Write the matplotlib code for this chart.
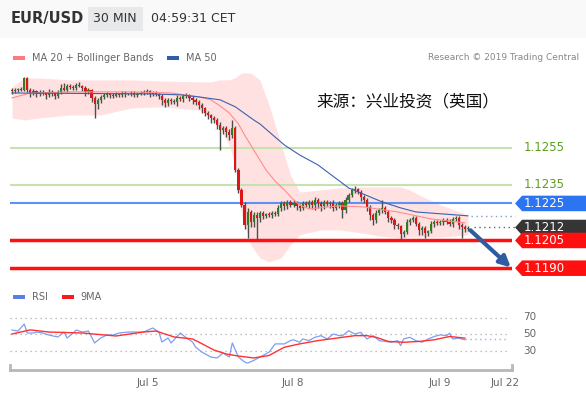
import matplotlib
matplotlib.use("Agg")
import matplotlib.pyplot as plt
from matplotlib.patches import Polygon, Rectangle

# EUR/USD 30 min, prices stored as pips above 1.1200
closes = [85.8, 86.4, 86.9, 86.4, 92.8, 86.4, 84.7, 85.8, 84.2, 85.3,
          84.7, 83.7, 85.3, 84.7, 83.1, 85.3, 87.4, 86.4, 88.5, 88.0,
          87.4, 89.1, 88.5, 87.4, 85.3, 86.4, 82.0, 78.8, 81.0, 82.6,
          83.7, 84.2, 83.7, 83.1, 84.2, 83.7, 84.7, 84.2, 84.2, 84.7,
          83.7, 84.2, 84.7, 85.3, 85.8, 84.2, 84.7, 84.2, 83.1, 81.0,
          79.3, 81.0, 80.4, 79.9, 82.0, 81.5, 83.1, 83.7, 82.0, 81.0,
          79.9, 78.2, 76.6, 73.9, 72.8, 71.2, 70.1, 67.4, 64.7, 65.8,
          63.7, 62.0, 65.8, 43.1, 32.3, 24.2, 13.4, 20.4, 15.0, 18.8,
          17.2, 19.9, 18.3, 19.3, 18.8, 19.9, 19.3, 22.6, 25.3, 23.7,
          25.8, 24.2, 25.3, 23.7, 22.6, 25.3, 24.2, 25.8, 24.2, 26.9,
          25.3, 23.7, 25.8, 24.7, 25.3, 22.6, 24.2, 25.3, 21.5, 26.9,
          29.6, 32.3, 32.8, 31.2, 28.5, 26.9, 23.1, 18.8, 16.1, 19.9,
          21.5, 22.6, 20.4, 17.2, 16.1, 13.4, 12.8, 8.5, 9.6, 15.0,
          16.1, 17.2, 13.9, 10.7, 11.8, 9.1, 10.1, 13.9, 15.0, 14.5,
          15.0, 16.1, 15.0, 13.9, 16.6, 17.2, 13.4, 12.3, 11.2, 11.8]
first_open = 86.4
opens = [first_open] + closes[:-1]

wick_hi = [0.8, 1.2, 0.6, 1.0, 0.5, 0.4, 0.8, 1.2, 0.6, 0.9,
           1.0, 0.7, 1.3, 0.8, 0.6, 1.0, 2.0, 2.5, 1.0, 1.2,
           0.8, 1.0, 1.5, 0.7, 0.9, 1.0, 0.6, 0.8, 1.0, 1.2,
           0.8, 1.0, 0.7, 0.9, 1.0, 0.6, 0.8, 1.1, 0.7, 0.9,
           1.0, 0.8, 1.2, 0.9, 1.0, 0.7, 0.8, 1.3, 0.6, 0.8,
           1.0, 1.2, 0.9, 0.8, 1.5, 1.0, 1.3, 0.8, 0.6, 1.0,
           0.8, 0.9, 1.0, 0.7, 1.2, 0.8, 1.0, 0.9, 1.5, 1.2,
           1.0, 1.5, 4.3, 1.0, 1.2, 1.0, 1.5, 2.0, 1.2, 1.8,
           1.5, 1.0, 1.2, 0.8, 1.0, 0.9, 1.2, 1.5, 1.0, 1.2,
           0.8, 1.0, 1.5, 0.9, 1.0, 0.8, 1.2, 1.0, 0.9, 1.5,
           1.0, 0.8, 1.2, 0.9, 1.0, 1.5, 0.8, 1.0, 1.2, 1.5,
           1.2, 1.0, 1.5, 0.8, 1.0, 0.9, 1.2, 0.8, 1.0, 1.5,
           1.0, 4.3, 0.8, 1.2, 1.0, 0.9, 1.0, 0.8, 1.2, 1.5,
           1.0, 0.8, 1.2, 0.9, 1.0, 1.2, 0.8, 1.5, 1.0, 0.9,
           1.2, 1.0, 0.8, 1.5, 1.0, 1.2, 0.9, 1.0, 0.8, 0.9]
wick_lo = [1.5, 1.0, 1.2, 0.8, 0.5, 1.0, 2.0, 1.2, 1.5, 1.0,
           1.2, 2.0, 1.0, 1.5, 1.8, 1.0, 1.2, 0.8, 1.0, 1.2,
           1.0, 1.2, 0.8, 1.5, 2.0, 1.2, 2.0, 7.6, 2.5, 1.5,
           1.2, 1.0, 1.5, 1.2, 0.8, 1.0, 1.2, 1.5, 0.8, 1.0,
           1.2, 1.0, 0.8, 1.2, 1.0, 1.5, 1.2, 1.0, 1.5, 2.7,
           2.0, 1.5, 1.8, 1.2, 2.5, 1.0, 1.5, 1.2, 1.5, 2.0,
           1.5, 2.0, 2.5, 1.8, 2.0, 2.5, 1.5, 2.0, 10.8, 2.0,
           3.0, 2.5, 1.5, 1.0, 1.5, 1.0, 2.0, 7.0, 2.5, 3.0,
           11.9, 2.0, 1.5, 1.2, 1.0, 1.5, 1.2, 1.0, 1.5, 2.0,
           1.5, 1.2, 1.0, 2.0, 1.5, 1.2, 1.0, 1.5, 2.0, 3.0,
           2.5, 3.0, 1.5, 1.2, 2.0, 1.5, 1.0, 1.5, 4.3, 1.5,
           1.2, 1.0, 1.5, 1.2, 2.0, 1.5, 2.0, 3.0, 3.0, 1.5,
           1.2, 1.5, 1.0, 2.0, 1.5, 2.0, 1.5, 3.2, 1.5, 1.2,
           1.5, 1.2, 1.0, 3.0, 2.5, 3.0, 1.5, 1.2, 1.5, 1.0,
           1.2, 1.5, 1.0, 1.2, 1.5, 1.0, 2.0, 6.0, 1.5, 1.0]

# bollinger envelope + moving averages (pips), read at a few candles
bb_x = [0, 4, 9, 19, 29, 39, 48, 61, 65, 68, 71, 73, 75, 78, 81, 84, 88, 91, 94,
        101, 107, 114, 120, 127, 130, 133, 140, 149]
bb_up = [88.0, 92.8, 92.8, 91.8, 91.8, 91.8, 91.2, 90.7, 90.7, 91.8, 91.8,
         93.0, 95.5, 95.5, 91.8, 78.2, 56.6, 40.4, 31.2, 32.3, 33.4, 33.9, 33.9,
         33.9, 32.3, 29.6, 24.2, 18.8]
bb_lo = [71.2, 70.1, 71.2, 72.8, 72.8, 76.6, 77.2, 75.5, 71.2, 65.8, 56.6,
         45.0, 18.8, 2.6, -4.4, -6.6, -4.4, 2.6, 8.0, 10.7, 10.7, 9.1, 7.4, 6.4,
         6.9, 6.9, 6.9, 8.0]
ma20_x = [0, 6, 19, 39, 52, 61, 65, 68, 71, 74, 76, 78, 81, 83, 86, 89, 92,
          94, 97, 107, 115, 126, 137, 148]
ma20 = [82.0, 84.7, 85.3, 85.3, 84.7, 82.6, 81.0, 77.7, 73.9, 68.0, 62.0,
        56.6, 48.5, 43.1, 37.0, 32.3, 27.0, 24.2, 22.0, 23.7, 23.1, 20.4,
        16.6, 14.5]
ma50_x = [0, 45, 55, 61, 68, 73, 79, 81, 89, 94, 100, 110, 121, 127, 132, 149]
ma50 = [84.7, 84.2, 83.7, 82.6, 81.0, 77.2, 70.1, 68.0, 56.6, 51.2, 45.8,
        33.4, 25.8, 22.6, 20.4, 18.3]

# RSI panel
rsi_x = [0, 2, 4, 5, 7, 8, 10, 12, 15, 17, 18, 20, 21, 23, 25, 27, 29, 31,
         33, 35, 38, 40, 43, 46, 48, 49, 51, 52, 55, 57, 59, 60, 62, 65, 67,
         69, 71, 72, 74, 76, 77, 79, 81, 84, 86, 89, 91, 92, 94, 95, 97, 99,
         101, 103, 105, 107, 108, 110, 112, 114, 116, 118, 120, 122, 124, 126,
         127, 128, 130, 132, 134, 136, 138, 140, 142, 143, 144, 146, 148]
rsi = [54.8, 53.6, 62.1, 51.2, 51.2, 52.4, 51.2, 48.8, 46.4, 52.4, 45.2,
       51.2, 54.8, 52.4, 53.6, 39.1, 45.2, 48.8, 48.8, 51.2, 52.4, 52.4,
       52.4, 57.3, 52.4, 40.3, 45.2, 39.1, 51.2, 45.2, 40.3, 34.2, 28.2,
       22.1, 20.9, 27.0, 22.1, 39.1, 22.1, 16.1, 14.8, 18.0, 22.0, 28.0,
       38.0, 38.0, 42.0, 43.0, 40.0, 44.0, 42.0, 46.0, 48.0, 44.0, 50.0,
       48.0, 48.0, 54.0, 50.0, 52.0, 44.0, 48.0, 42.0, 41.0, 40.0, 42.0,
       36.0, 44.0, 46.0, 42.0, 40.0, 44.0, 47.0, 49.0, 48.0, 51.0, 44.0,
       45.0, 43.0]
ma9_x = [0, 6, 12, 23, 34, 43, 47, 53, 59, 61, 66, 70, 74, 79, 84, 89, 94,
         100, 106, 112, 116, 119, 123, 128, 133, 138, 143, 148]
ma9 = [50, 55, 52.4, 51.2, 47.6, 52.4, 53.6, 46.4, 44, 40.3, 30.6, 25.8,
       23.3, 21, 24, 34, 38, 42, 45, 48, 48, 46, 41, 40, 41, 43, 47, 45]

tick_pos = [44.4, 91.8, 139.9, 161.1]
tick_labels = ["Jul 5", "Jul 8", "Jul 9", "Jul 22"]

# levels in pips above 1.1200
green_levels = [55.0, 35.0]
blue_level = 25.0
last_price = 12.0
red_levels = [5.0, -10.0]

W, H = 586, 394
fig = plt.figure(figsize=(W / 100, H / 100), dpi=100)
fig.patch.set_facecolor("white")


def fx(px):
    return px / W


def fy(py):
    return 1 - py / H


# header strip
fig.patches.append(Rectangle((0, fy(38)), 1, 38 / H, transform=fig.transFigure,
                             facecolor="#f9f9f9", edgecolor="none", zorder=0))
fig.patches.append(Rectangle((fx(88), fy(31)), 55 / W, 24 / H, transform=fig.transFigure,
                             facecolor="#e8e9eb", edgecolor="none", zorder=1))
fig.text(fx(11), fy(19), "EUR/USD", fontsize=10.5, weight="bold", color="#333333", va="center")
fig.text(fx(115), fy(19), "30 MIN", fontsize=9, color="#333333", va="center", ha="center")
fig.text(fx(151), fy(19), "04:59:31 CET", fontsize=9, color="#333333", va="center")

# legends
fig.patches.append(Rectangle((fx(13), fy(60)), 12 / W, 4 / H, transform=fig.transFigure,
                             facecolor="#ff7b7b", edgecolor="none"))
fig.text(fx(32), fy(58), "MA 20 + Bollinger Bands", fontsize=7, color="#666666", va="center")
fig.patches.append(Rectangle((fx(167), fy(60)), 12 / W, 4 / H, transform=fig.transFigure,
                             facecolor="#2f5ea8", edgecolor="none"))
fig.text(fx(186), fy(58), "MA 50", fontsize=7, color="#666666", va="center")
fig.text(fx(579), fy(58), "Research \u00a9 2019 Trading Central", fontsize=6.5,
         color="#888888", va="center", ha="right")

fig.patches.append(Rectangle((fx(13), fy(299)), 12 / W, 4 / H, transform=fig.transFigure,
                             facecolor="#5b7fe0", edgecolor="none"))
fig.text(fx(32), fy(297), "RSI", fontsize=7, color="#666666", va="center")
fig.patches.append(Rectangle((fx(62), fy(299)), 12 / W, 4 / H, transform=fig.transFigure,
                             facecolor="#ff1a1a", edgecolor="none"))
fig.text(fx(80), fy(297), "9MA", fontsize=7, color="#666666", va="center")

# main price panel
ax = fig.add_axes([fx(10), fy(278), 502 / W, 210 / H])
ax.set_xlim(-0.65, 163.4)
ax.set_ylim(-15.3, 98.2)
ax.axis("off")

ax.fill_between(bb_x, bb_lo, bb_up, color="#ffe1e1", lw=0, zorder=1)

for lv in green_levels:
    ax.axhline(lv, color="#c6e2b1", lw=1.5, zorder=2)
ax.axhline(blue_level, color="#5b93f5", lw=1.5, zorder=2)
for lv in red_levels:
    ax.axhline(lv, color="#ff1010", lw=2.5, zorder=2)

xs = list(range(len(closes)))
for i in xs:
    o, c = opens[i], closes[i]
    top, bot = max(o, c), min(o, c)
    ax.vlines(i, bot - wick_lo[i], top + wick_hi[i], color="#4d4d4d", lw=1.0, zorder=3)
    col = "#2e7d1e" if c >= o else "#dd1515"
    ax.bar(i, max(top - bot, 0.6), bottom=bot, width=0.72, color=col, lw=0, zorder=4)

ax.plot(ma20_x, ma20, color="#ff8c8c", lw=0.8, zorder=5)
ax.plot(ma50_x, ma50, color="#3a62ad", lw=0.8, zorder=5)
ax.plot([ma50_x[-1] + 1, 164.4], [ma50[-1], ma50[-1]], color="#8a9cc4", lw=1,
        ls=(0, (1, 2.5)), zorder=5, clip_on=False)
ax.plot([151, 164.4], [last_price, last_price], color="#666666", lw=1,
        ls=(0, (1, 2.5)), zorder=5, clip_on=False)

ax.annotate("", xy=(163.0, -9.6), xytext=(149.8, 10.5), annotation_clip=False,
            arrowprops=dict(arrowstyle="-|>", lw=3, color="#2d5da0",
                            mutation_scale=16, shrinkA=0, shrinkB=0), zorder=6)


def tag(level, face, text):
    h = 4.2
    pts = [(164.4, level), (166.7, level + h), (187.6, level + h),
           (187.6, level - h), (166.7, level - h)]
    ax.add_patch(Polygon(pts, closed=True, facecolor=face, edgecolor="none",
                         clip_on=False, zorder=6))
    ax.text(167.2, level, text, color="white", fontsize=8.5, va="center",
            clip_on=False, zorder=7)


for lv, txt in zip(green_levels, ["1.1255", "1.1235"]):
    ax.text(167.2, lv, txt, color="#5aa01e", fontsize=8.5, va="center", clip_on=False)
tag(blue_level, "#2b74f2", "1.1225")
tag(last_price, "#353535", "1.1212")
tag(red_levels[0], "#ff1010", "1.1205")
tag(red_levels[1], "#ff1010", "1.1190")

ax.text(99.4, 79.9, "来源：兴业投资（英国）", fontsize=12, color="#111111", va="center",
        family=["Noto Sans CJK SC", "DejaVu Sans"], zorder=7)

# RSI panel
ax2 = fig.add_axes([fx(10), fy(370), 502 / W, 70 / H])
ax2.set_xlim(-0.65, 163.4)
ax2.set_ylim(6.4, 91.2)
for s in ["top", "left", "right"]:
    ax2.spines[s].set_visible(False)
ax2.spines["bottom"].set_color("#b8b8b8")
ax2.spines["bottom"].set_linewidth(2)
ax2.set_yticks([])
ax2.set_xticks(tick_pos)
ax2.set_xticklabels(tick_labels, fontsize=7.5, color="#666666")
ax2.tick_params(axis="x", length=0, pad=6)
for xe in (0, 1):
    ax2.plot([xe, xe], [0, 0.07], transform=ax2.transAxes, color="#b8b8b8",
             lw=2, clip_on=False)

ax2.hlines([30, 50, 70], -0.65, 162, colors="#aaaaaa", lw=0.9, linestyles=(0, (1, 3)))
for v in (30, 50, 70):
    ax2.text(167.0, v, str(v), fontsize=7.5, color="#666666", va="center", clip_on=False)
ax2.plot(rsi_x, rsi, color="#7f9ef0", lw=0.9, zorder=3)
ax2.plot([rsi_x[-1], 162], [rsi[-1] + 1, rsi[-1] + 1], color="#9ab0f0", lw=1,
         ls=(0, (1, 2.5)), zorder=3)
ax2.plot(ma9_x, ma9, color="#ff3030", lw=1.0, zorder=4)

fig.savefig("out.png", dpi=100)
